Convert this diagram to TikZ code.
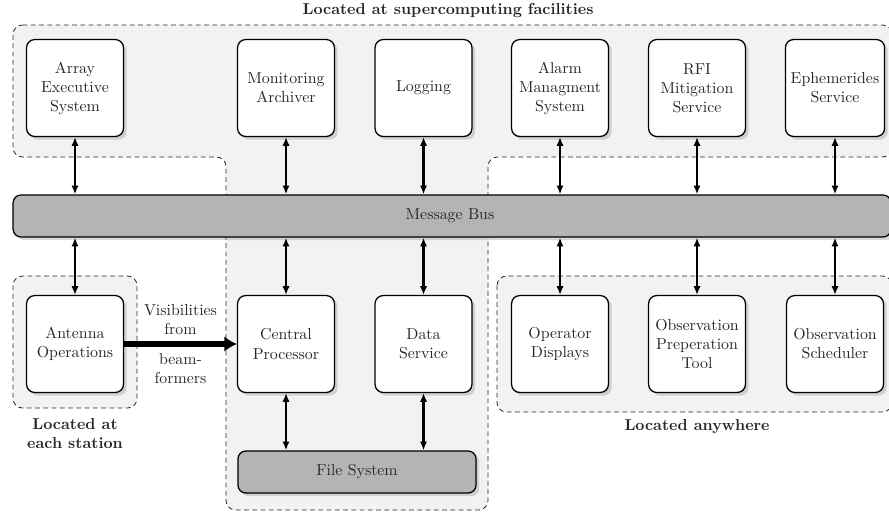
\documentclass[tikz,border=0pt]{standalone}
\usetikzlibrary{arrows.meta}
\usetikzlibrary{shadows}
\usetikzlibrary{positioning}
\definecolor{region-grey}{RGB}{242,242,243}
\definecolor{bus-grey}{RGB}{179,180,182}
\definecolor{text-grey}{RGB}{40,40,40}

\tikzset{
  comp/.style={draw=black, thick, fill=white, rounded corners=5pt,
    minimum width=61pt, minimum height=61pt, align=center, text=text-grey,
    drop shadow={shadow xshift=2pt, shadow yshift=-2pt, opacity=0.3}},
  busbar/.style={draw=black, thick, fill=bus-grey, rounded corners=5pt,
    align=center, text=text-grey,
    drop shadow={shadow xshift=2pt, shadow yshift=-2pt, opacity=0.3}},
  region/.style={draw=black!85, line width=0.5pt, fill=region-grey,
    dash pattern=on 3pt off 2.2pt, rounded corners=6pt},
  link/.style={{Latex[length=5.5pt,width=4.5pt]}-{Latex[length=5.5pt,width=4.5pt]}, line width=1.3pt},
  feed/.style={-{Latex[length=8pt,width=10pt]}, line width=3.6pt},
  where/.style={font=\bfseries, align=center, text=text-grey}
}

\begin{document}
\begin{tikzpicture}[x=0.63pt,y=-0.63pt]
\useasboundingbox (0,0) rectangle (889,512);
\clip (0,0) rectangle (889,512);

% regions
\draw[region] (13,25) -- (892,25) -- (892,157) -- (488,157) -- (488,510)
  -- (226,510) -- (226,157) -- (13,157) -- cycle;
\draw[region] (13,276) rectangle (137,408);
\draw[region] (497,276) rectangle (892,412);

\node[where] (supertxt) at (448,11) {Located at supercomputing facilities};
\node[where] (stationtxt) at (75,434) {Located at\\each station};
\node[where] (anytxt) at (697,427) {Located anywhere};

% message bus
\node[busbar, minimum width=553pt, minimum height=26.5pt] (bus) at (452,216) {};
\node[text=text-grey] (bustxt) at (450,216) {Message Bus};

% top row
\node[comp] (aes) at (75,88) {Array\\Executive\\System};
\node[comp] (monarch) at (286,88) {Monitoring\\Archiver};
\node[comp] (logging) at (423.5,88) {Logging};
\node[comp] (alarm) at (560,88) {Alarm\\Managment\\System};
\node[comp] (rfi) at (697,88) {RFI\\Mitigation\\Service};
\node[comp] (ephem) at (835,88) {Ephemerides\\Service};

% bottom row
\node[comp] (antops) at (75,344) {Antenna\\Operations};
\node[comp] (cproc) at (286,344) {Central\\Processor};
\node[comp] (dataserv) at (423.5,344) {Data\\Service};
\node[comp] (opdisp) at (560,344) {Operator\\Displays};
\node[comp] (obsprep) at (697,344) {Observation\\Preperation\\Tool};
\node[comp] (obssched) at (835,344) {Observation\\Scheduler};

\node[busbar, minimum width=150pt, minimum height=26.5pt] (filesys) at (357,472) {File System};

% links to bus
\foreach \c in {aes,monarch,logging,alarm,rfi,ephem}
  \draw[link] (\c.south) -- (\c.south |- bus.north);
\foreach \c in {antops,cproc,dataserv,opdisp,obsprep,obssched}
  \draw[link] (\c.north) -- (\c.north |- bus.south);
\foreach \c in {cproc,dataserv}
  \draw[link] (\c.south) -- (\c.south |- filesys.north);

% visibilities
\draw[feed] (antops.east) -- node[above, align=center, text=text-grey, yshift=1pt] {Visibilities\\from}
  node[below, align=center, text=text-grey, yshift=-1pt] {beam-\\formers} (cproc.west);

\end{tikzpicture}
\end{document}
